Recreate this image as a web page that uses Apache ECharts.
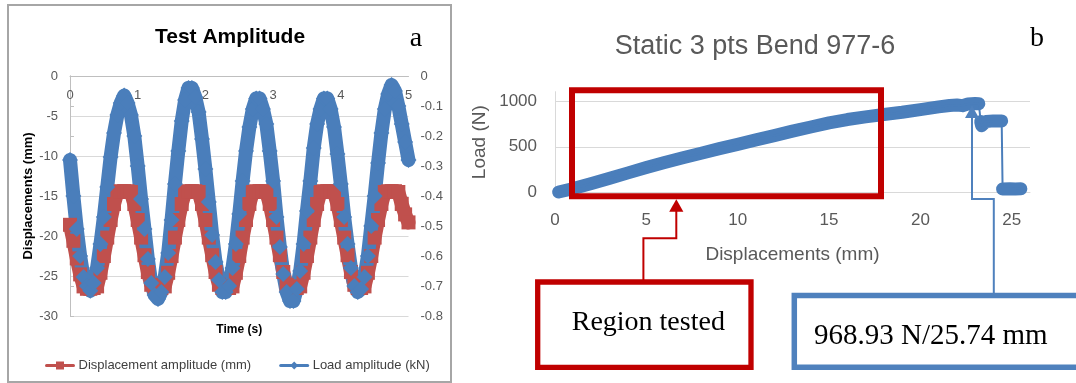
<!DOCTYPE html>
<html>
<head>
<meta charset="utf-8">
<title>Test Amplitude / Static 3 pts Bend 977-6</title>
<script src="https://cdn.jsdelivr.net/npm/echarts@6.0.0/dist/echarts.min.js"></script>
<style>
    html, body { margin: 0; padding: 0; background: #fff; }
    #chart { width: 1076px; height: 383px; }
</style>
</head>
<body>
<div id="chart"></div>
<script>
// panel a : sampled every 0.05 s
var timeS = [0, 0.05, 0.1, 0.15, 0.2, 0.25, 0.3, 0.35, 0.4, 0.45, 0.5, 0.55, 0.6, 0.65, 0.7, 0.75, 0.8, 0.85, 0.9, 0.95,
    1, 1.05, 1.1, 1.15, 1.2, 1.25, 1.3, 1.35, 1.4, 1.45, 1.5, 1.55, 1.6, 1.65, 1.7, 1.75, 1.8, 1.85, 1.9, 1.95,
    2, 2.05, 2.1, 2.15, 2.2, 2.25, 2.3, 2.35, 2.4, 2.45, 2.5, 2.55, 2.6, 2.65, 2.7, 2.75, 2.8, 2.85, 2.9, 2.95,
    3, 3.05, 3.1, 3.15, 3.2, 3.25, 3.3, 3.35, 3.4, 3.45, 3.5, 3.55, 3.6, 3.65, 3.7, 3.75, 3.8, 3.85, 3.9, 3.95,
    4, 4.05, 4.1, 4.15, 4.2, 4.25, 4.3, 4.35, 4.4, 4.45, 4.5, 4.55, 4.6, 4.65, 4.7, 4.75, 4.8, 4.85, 4.9, 4.95,
    5];
var dispMm = [-18.6, -20.6, -22.8, -24.8, -26.3, -26.6, -26.6, -26.5, -26.3, -24.6, -22.5, -20.2, -18.0, -16.0, -14.5, -14.4, -14.4, -14.4, -14.5, -16.0,
    -18.0, -20.2, -22.4, -24.5, -26.1, -26.5, -26.6, -26.5, -26.3, -24.6, -22.5, -20.2, -18.0, -16.0, -14.5, -14.4, -14.4, -14.4, -14.5, -16.0,
    -18.0, -20.2, -22.4, -24.5, -26.1, -26.5, -26.5, -26.5, -26.3, -24.6, -22.5, -20.2, -18.0, -16.0, -14.5, -14.4, -14.4, -14.4, -14.5, -16.0,
    -18.0, -20.2, -22.4, -24.5, -26.1, -26.6, -26.5, -26.5, -26.3, -24.6, -22.5, -20.2, -18.0, -16.0, -14.5, -14.4, -14.4, -14.4, -14.5, -16.0,
    -18.0, -20.2, -22.4, -24.5, -26.1, -26.5, -26.5, -26.3, -24.6, -22.5, -20.2, -18.0, -16.0, -14.5, -14.4, -14.4, -14.4, -14.5, -16.0, -17.3,
    -18.3];
var loadKn = [-0.28, -0.40, -0.51, -0.60, -0.67, -0.70, -0.716, -0.69, -0.64, -0.56, -0.47, -0.37, -0.27, -0.19, -0.13, -0.09, -0.065, -0.09, -0.13, -0.20,
    -0.30, -0.41, -0.51, -0.61, -0.69, -0.73, -0.743, -0.72, -0.67, -0.59, -0.48, -0.36, -0.25, -0.15, -0.08, -0.04, -0.04, -0.07, -0.12, -0.21,
    -0.31, -0.42, -0.53, -0.62, -0.68, -0.72, -0.72, -0.70, -0.64, -0.56, -0.46, -0.35, -0.25, -0.17, -0.11, -0.075, -0.075, -0.11, -0.16, -0.25,
    -0.35, -0.47, -0.57, -0.66, -0.72, -0.75, -0.75, -0.71, -0.65, -0.56, -0.45, -0.35, -0.24, -0.16, -0.11, -0.075, -0.075, -0.11, -0.17, -0.26,
    -0.36, -0.47, -0.56, -0.64, -0.70, -0.72, -0.71, -0.67, -0.60, -0.50, -0.40, -0.29, -0.19, -0.11, -0.06, -0.03, -0.05, -0.10, -0.16, -0.22,
    -0.28];

// panel b : static 3 point bend
var bendDisp = [0.2, 1, 2, 3, 4, 5, 6, 7, 8, 9, 10, 11, 12, 13, 14, 15, 16, 17, 18, 19, 20, 21,
    21.6, 22.0, 22.3, 22.6, 23.0, 23.2, 23.3, 23.35, 23.6, 24.0, 24.45, 24.5, 24.9, 25.2, 25.5];
var bendLoad = [8, 45, 100, 158, 216, 274, 328, 380, 430, 480, 527, 575, 622, 670, 716, 760, 797, 826, 852, 876, 905, 935,
    950, 955, 948, 966, 972, 970, 775, 730, 775, 782, 782, 40, 42, 40, 42];

var legendNames = ['Displacement amplitude (mm)', 'Load amplitude (kN)'];

var sans = 'Liberation Sans';
var serif = 'Liberation Serif';
var red = '#C0504D';
var blue = '#4A7EBB';
var darkRed = '#C00000';
var boxBlue = '#4F81BD';

var dispData = timeS.map(function (t, i) { return [t, dispMm[i]]; });
var loadData = timeS.map(function (t, i) { return [t, loadKn[i]]; });

// thick band is broken where the load suddenly drops, thin trace keeps the drops
var bandData = [];
var traceData = [];
for (var i = 0; i < bendDisp.length; i++) {
    if (i > 0 && Math.abs(bendLoad[i] - bendLoad[i - 1]) > 150) {
        bandData.push(['-', '-']);
    }
    bandData.push([bendDisp[i], bendLoad[i]]);
    traceData.push([bendDisp[i], bendLoad[i]]);
}

var chart = echarts.init(document.getElementById('chart'));
var option = {
    animation: false,
    backgroundColor: '#fff',
    textStyle: { fontFamily: sans },
    title: [
        { text: 'Test Amplitude', left: 230, top: 27, textAlign: 'center', padding: 0,
          textStyle: { fontFamily: sans, fontSize: 21, fontWeight: 'bold', color: '#000' } },
        { text: 'a', left: 416, top: 25, textAlign: 'center', padding: 0,
          textStyle: { fontFamily: serif, fontSize: 28, fontWeight: 'normal', color: '#000' } },
        { text: 'Static 3 pts Bend 977-6', left: 755, top: 33, textAlign: 'center', padding: 0,
          textStyle: { fontFamily: sans, fontSize: 27, fontWeight: 'normal', color: '#595959' } },
        { text: 'b', left: 1037, top: 25, textAlign: 'center', padding: 0,
          textStyle: { fontFamily: serif, fontSize: 28, fontWeight: 'normal', color: '#000' } }
    ],
    legend: {
        data: legendNames,
        left: 45,
        top: 359,
        padding: 0,
        itemWidth: 27,
        itemHeight: 10,
        itemGap: 28,
        lineStyle: { width: 3 },
        textStyle: { fontFamily: sans, fontSize: 13, color: '#404040' }
    },
    grid: [
        { left: 70, top: 76, width: 338.5, height: 240, outerBoundsMode: 'none' },
        { left: 555, top: 91.7, width: 475, height: 101, outerBoundsMode: 'none' }
    ],
    xAxis: [
        {
            gridIndex: 0, type: 'value', position: 'top', min: 0, max: 5, interval: 1,
            axisLine: { show: true, lineStyle: { color: '#bfbfbf' } },
            axisTick: { show: false },
            axisLabel: { inside: true, margin: 13, fontSize: 13, color: '#595959' },
            splitLine: { show: false }
        },
        {
            gridIndex: 0, type: 'value', position: 'bottom', min: 0, max: 5,
            name: 'Time (s)', nameLocation: 'middle', nameGap: 8,
            nameTextStyle: { fontFamily: sans, fontSize: 12, fontWeight: 'bold', color: '#000' },
            axisLine: { show: false }, axisTick: { show: false },
            axisLabel: { show: false }, splitLine: { show: false }
        },
        {
            gridIndex: 1, type: 'value', min: 0, max: 26, interval: 5,
            name: 'Displacements (mm)', nameLocation: 'middle', nameGap: 53,
            nameTextStyle: { fontFamily: sans, fontSize: 19, color: '#595959' },
            axisLine: { show: true, lineStyle: { color: '#d9d9d9' } },
            axisTick: { show: false },
            axisLabel: { margin: 19, fontSize: 17, color: '#595959', showMaxLabel: false },
            splitLine: { show: false }
        }
    ],
    yAxis: [
        {
            gridIndex: 0, type: 'value', min: -30, max: 0, interval: 5,
            name: 'Displacements (mm)', nameLocation: 'middle', nameGap: 35,
            nameTextStyle: { fontFamily: sans, fontSize: 13, fontWeight: 'bold', color: '#000' },
            axisLine: { show: true, lineStyle: { color: '#bfbfbf' } },
            axisTick: { show: false },
            axisLabel: { margin: 12, fontSize: 13, color: '#595959' },
            splitLine: { show: true, lineStyle: { color: '#d9d9d9' } }
        },
        {
            gridIndex: 0, type: 'value', position: 'right', min: -0.8, max: 0, interval: 0.1,
            axisLine: { show: true, lineStyle: { color: '#bfbfbf' } },
            axisTick: { show: true, length: 4, lineStyle: { color: '#bfbfbf' } },
            axisLabel: { margin: 12, fontSize: 13, color: '#595959' },
            splitLine: { show: false }
        },
        {
            gridIndex: 1, type: 'value', min: 0, max: 1100, interval: 500,
            name: 'Load (N)', nameLocation: 'middle', nameGap: 66,
            nameTextStyle: { fontFamily: sans, fontSize: 19, color: '#595959' },
            axisLine: { show: true, lineStyle: { color: '#d9d9d9' } },
            axisTick: { show: false },
            axisLabel: { margin: 18, fontSize: 17, color: '#595959', showMaxLabel: false,
                         formatter: function (v) { return String(v); } },
            splitLine: { show: true, showMaxLine: false, lineStyle: { color: '#d9d9d9' } }
        }
    ],
    series: [
        {
            name: legendNames[0], type: 'line', xAxisIndex: 0, yAxisIndex: 0,
            data: dispData, symbol: 'rect', symbolSize: 14, showSymbol: true,
            color: red,
            lineStyle: { width: 14, color: red, join: 'round', cap: 'round' },
            itemStyle: { color: red }
        },
        {
            name: legendNames[1], type: 'line', xAxisIndex: 0, yAxisIndex: 1,
            data: loadData, symbol: 'diamond', symbolSize: 16, showSymbol: true,
            color: blue,
            lineStyle: { width: 14, color: blue, join: 'round', cap: 'round' },
            itemStyle: { color: blue }
        },
        {
            name: 'Static 3 pts Bend 977-6', type: 'line', xAxisIndex: 2, yAxisIndex: 2,
            data: bandData, showSymbol: false, connectNulls: false,
            lineStyle: { width: 13, color: blue, cap: 'round', join: 'round' }
        },
        {
            name: 'Static 3 pts Bend 977-6 trace', type: 'line', xAxisIndex: 2, yAxisIndex: 2,
            data: traceData, showSymbol: false,
            lineStyle: { width: 2, color: blue }
        }
    ],
    graphic: [
        // frame of panel a
        { type: 'rect', z: 0, shape: { x: 8, y: 5, width: 443, height: 377 },
          style: { fill: 'none', stroke: '#a6a6a6', lineWidth: 2 } },
        // region tested annotation
        { type: 'rect', z: 20, shape: { x: 572, y: 90.3, width: 309, height: 106 },
          style: { fill: 'none', stroke: darkRed, lineWidth: 6 } },
        { type: 'polygon', z: 20, shape: { points: [[676.3, 199.3], [669.2, 211.7], [683.4, 211.7]] },
          style: { fill: darkRed } },
        { type: 'polyline', z: 20, shape: { points: [[676.3, 211], [676.3, 238.3], [643.4, 238.3], [643.4, 281]] },
          style: { fill: 'none', stroke: darkRed, lineWidth: 2 } },
        { type: 'rect', z: 20, shape: { x: 537.7, y: 282, width: 213.3, height: 85.3 },
          style: { fill: '#fff', stroke: darkRed, lineWidth: 5.3 } },
        { type: 'text', z: 21, x: 571.7, y: 322.5,
          style: { text: 'Region tested', fill: '#000', font: '28px "Liberation Serif"',
                   textAlign: 'left', textVerticalAlign: 'middle' } },
        // peak annotation
        { type: 'polygon', z: 20, shape: { points: [[972, 105.5], [965, 118], [979, 118]] },
          style: { fill: boxBlue } },
        { type: 'polyline', z: 20, shape: { points: [[972, 117], [972, 199], [993.8, 199], [993.8, 294]] },
          style: { fill: 'none', stroke: boxBlue, lineWidth: 2 } },
        { type: 'rect', z: 20, shape: { x: 794.3, y: 295.5, width: 300, height: 71.8 },
          style: { fill: '#fff', stroke: boxBlue, lineWidth: 5.5 } },
        { type: 'text', z: 21, x: 814, y: 336.3,
          style: { text: '968.93 N/25.74 mm', fill: '#000', font: '29px "Liberation Serif"',
                   textAlign: 'left', textVerticalAlign: 'middle' } }
    ]
};
chart.setOption(option);
</script>
</body>
</html>
